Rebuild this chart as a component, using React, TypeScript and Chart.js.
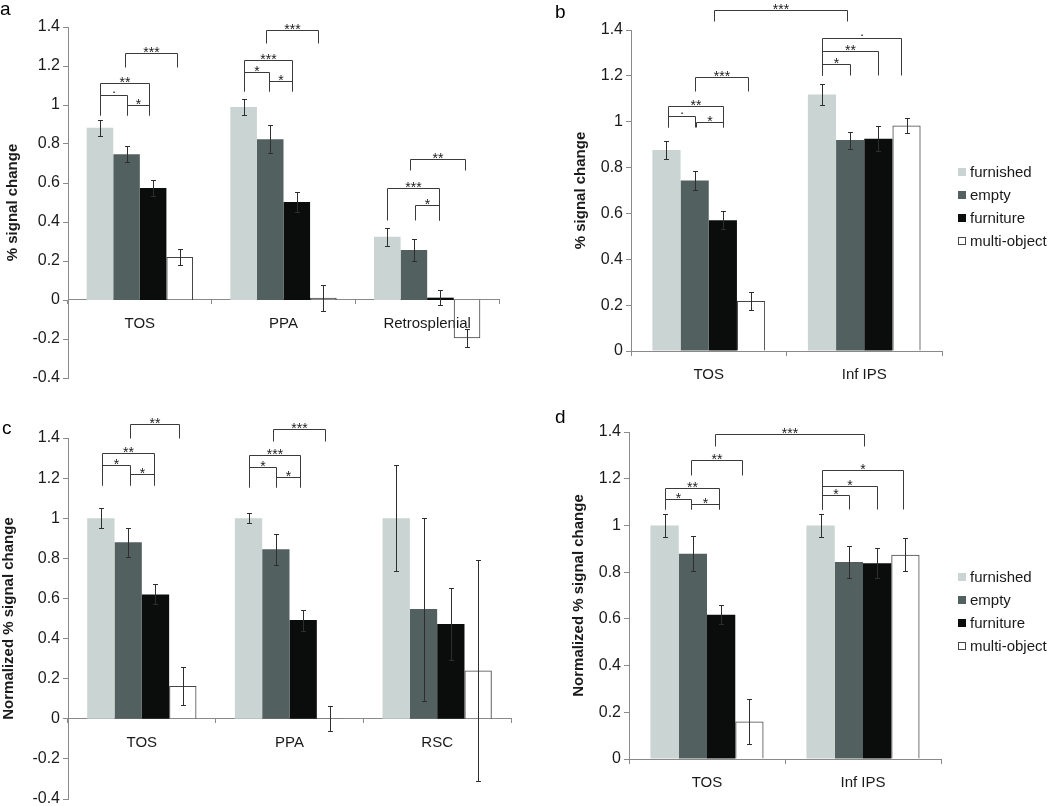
import React, { useEffect, useRef } from 'react';
import { Chart, registerables } from 'chart.js';

Chart.register(...registerables);

const FONT = "'Liberation Sans', Arial, Helvetica, sans-serif";

const SERIES_LABELS = ['furnished', 'empty', 'furniture', 'multi-object'];

// ---------- Panel a: % signal change ----------
const catsA = ['TOS', 'PPA', 'Retrosplenial'];
const furnishedA = [0.883, 0.99, 0.324];
const emptyA = [0.748, 0.825, 0.256];
const furnitureA = [0.574, 0.502, 0.012];
const multiA = [0.22, 0.012, -0.196];
const furnishedErrA = [0.041, 0.041, 0.046];
const emptyErrA = [0.042, 0.072, 0.055];
const furnitureErrA = [0.04, 0.05, 0.037];
const multiErrA = [0.041, 0.067, 0.046];

// ---------- Panel b: % signal change ----------
const catsB = ['TOS', 'Inf IPS'];
const furnishedB = [0.877, 1.119];
const emptyB = [0.744, 0.92];
const furnitureB = [0.57, 0.926];
const multiB = [0.218, 0.984];
const furnishedErrB = [0.041, 0.047];
const emptyErrB = [0.041, 0.037];
const furnitureErrB = [0.039, 0.054];
const multiErrB = [0.041, 0.032];

// ---------- Panel c: normalized % signal change ----------
const catsC = ['TOS', 'PPA', 'RSC'];
const furnishedC = [1.0, 1.0, 1.0];
const emptyC = [0.88, 0.845, 0.547];
const furnitureC = [0.62, 0.492, 0.472];
const multiC = [0.163, 0.003, 0.241];
const furnishedErrC = [0.051, 0.026, 0.263];
const emptyErrC = [0.073, 0.076, 0.456];
const furnitureErrC = [0.05, 0.052, 0.18];
const multiErrC = [0.096, 0.062, 0.55];

// ---------- Panel d: normalized % signal change ----------
const catsD = ['TOS', 'Inf IPS'];
const furnishedD = [1.0, 1.0];
const emptyD = [0.879, 0.843];
const furnitureD = [0.618, 0.838];
const multiD = [0.161, 0.875];
const furnishedErrD = [0.05, 0.05];
const emptyErrD = [0.074, 0.07];
const furnitureErrD = [0.04, 0.065];
const multiErrD = [0.096, 0.07];

// Significance brackets: [category1, bar1, category2, bar2, top value, leg-bottom value, label]
type Bracket = [number, number, number, number, number, number, string];

const bracketsA: Bracket[] = [
  [0, 0, 0, 1, 1.052, 0.948, '·'],
  [0, 1, 0, 1.86, 1.002, 0.948, '*'],
  [0, 0, 0, 1.86, 1.115, 0.948, '**'],
  [0, 0.94, 0, 2.89, 1.268, 1.195, '***'],
  [1, 0, 1, 0.95, 1.17, 1.072, '*'],
  [1, 0.95, 1, 1.83, 1.122, 1.072, '*'],
  [1, 0, 1, 1.83, 1.233, 1.072, '***'],
  [1, 0.85, 1, 2.8, 1.383, 1.32, '***'],
  [2, 0, 2, 1.94, 0.572, 0.41, '***'],
  [2, 1.04, 2, 1.94, 0.485, 0.41, '*'],
  [2, 0.85, 2, 2.94, 0.722, 0.666, '**'],
];

const bracketsB: Bracket[] = [
  [0, 0.04, 0, 1, 1.026, 0.975, '·'],
  [0, 1.04, 0, 2, 0.999, 0.975, '*'],
  [0, 0.04, 0, 2, 1.068, 0.975, '**'],
  [0, 1, 0, 2.88, 1.196, 1.135, '***'],
  [1, 0, 1, 1, 1.252, 1.204, '*'],
  [1, 0, 1, 2, 1.308, 1.204, '**'],
  [1, 0, 1, 2.82, 1.366, 1.204, '·'],
  [0, 1.68, 1, 0.88, 1.487, 1.439, '***'],
];

const bracketsC: Bracket[] = [
  [0, 0.04, 0, 1.07, 1.265, 1.166, '*'],
  [0, 1.07, 0, 1.96, 1.219, 1.166, '*'],
  [0, 0.04, 0, 1.96, 1.327, 1.166, '**'],
  [0, 1.07, 0, 2.86, 1.47, 1.4, '**'],
  [1, 0, 1, 1, 1.254, 1.156, '*'],
  [1, 1, 1, 1.89, 1.207, 1.156, '*'],
  [1, 0, 1, 1.89, 1.314, 1.156, '***'],
  [1, 0.88, 1, 2.81, 1.443, 1.383, '***'],
];

const bracketsD: Bracket[] = [
  [0, 0, 0, 0.95, 1.115, 1.069, '*'],
  [0, 0.95, 0, 1.93, 1.09, 1.069, '*'],
  [0, 0, 0, 1.93, 1.16, 1.069, '**'],
  [0, 0.92, 0, 2.74, 1.28, 1.217, '**'],
  [1, 0.04, 1, 1, 1.129, 1.072, '*'],
  [1, 0.04, 1, 2, 1.17, 1.072, '*'],
  [1, 0.04, 1, 2.92, 1.236, 1.072, '*'],
  [0, 1.78, 1, 1.54, 1.393, 1.339, '***'],
];

// ---------- styles ----------
// multi-object bars are white on white: a transparent fill lets axis labels show through, as in the figure
const BAR_FILL = ['#cad4d2', '#52605f', '#0b0d0c', 'rgba(255,255,255,0)'];
const LEGEND_FILL = ['#cad4d2', '#52605f', '#0b0d0c', '#ffffff'];
const BAR_BORDER = ['#cad4d2', '#52605f', '#0b0d0c', '#454545'];
const BAR_BORDER_W = [0, 0, 0, 1];
const AXIS_COLOR = '#8a8a8a';
const TEXT_COLOR = '#1a1a1a';

interface PanelDef {
  letter: string;
  letterX: number;
  letterY: number;
  left: number;
  top: number;
  width: number;
  height: number;
  pad: { left: number; right: number; top: number; bottom: number };
  yWidth: number;
  titlePad: number;
  title: string;
  min: number;
  max: number;
  catPct: number;
  cats: string[];
  values: number[][];
  errors: number[][];
  brackets: Bracket[];
  legendX: number;
  legendRows: number[] | null;
}

const PANELS: PanelDef[] = [
  {
    letter: 'a', letterX: 0, letterY: 15,
    left: 0, top: 0, width: 530, height: 400,
    pad: { left: 0, right: 31, top: 27, bottom: 22 },
    yWidth: 68, titlePad: 4, title: '% signal change',
    min: -0.4, max: 1.4, catPct: 0.74,
    cats: catsA,
    values: [furnishedA, emptyA, furnitureA, multiA],
    errors: [furnishedErrA, emptyErrA, furnitureErrA, multiErrA],
    brackets: bracketsA, legendX: 0, legendRows: null,
  },
  {
    letter: 'b', letterX: 25, letterY: 18,
    left: 530, top: 0, width: 520, height: 400,
    pad: { left: 40, right: 108, top: 30, bottom: 49 },
    yWidth: 61, titlePad: 2, title: '% signal change',
    min: 0, max: 1.4, catPct: 0.725,
    cats: catsB,
    values: [furnishedB, emptyB, furnitureB, multiB],
    errors: [furnishedErrB, emptyErrB, furnitureErrB, multiErrB],
    brackets: bracketsB, legendX: 428, legendRows: [172, 195, 218, 241],
  },
  {
    letter: 'c', letterX: 2, letterY: 34,
    left: 0, top: 400, width: 530, height: 420,
    pad: { left: 0, right: 19, top: 38, bottom: 21 },
    yWidth: 68, titlePad: 0, title: 'Normalized % signal change',
    min: -0.4, max: 1.4, catPct: 0.74,
    cats: catsC,
    values: [furnishedC, emptyC, furnitureC, multiC],
    errors: [furnishedErrC, emptyErrC, furnitureErrC, multiErrC],
    brackets: bracketsC, legendX: 0, legendRows: null,
  },
  {
    letter: 'd', letterX: 25, letterY: 23,
    left: 530, top: 400, width: 520, height: 406,
    pad: { left: 38, right: 109, top: 32, bottom: 47 },
    yWidth: 61, titlePad: 2, title: 'Normalized % signal change',
    min: 0, max: 1.4, catPct: 0.725,
    cats: catsD,
    values: [furnishedD, emptyD, furnitureD, multiD],
    errors: [furnishedErrD, emptyErrD, furnitureErrD, multiErrD],
    brackets: bracketsD, legendX: 428, legendRows: [177, 200, 223, 246],
  },
];

function makeOverlay(p: PanelDef) {
  return {
    id: 'overlay',
    afterDatasetsDraw(chart: any) {
      const ctx = chart.ctx as CanvasRenderingContext2D;
      const ys = chart.scales.y;
      ctx.save();
      // error bars
      ctx.strokeStyle = '#2e2e2e';
      ctx.lineWidth = 1;
      chart.data.datasets.forEach((_ds: any, di: number) => {
        const meta = chart.getDatasetMeta(di);
        meta.data.forEach((bar: any, i: number) => {
          const v = p.values[di][i];
          const e = p.errors[di][i];
          const x = Math.round(bar.x) + 0.5;
          const y1 = Math.round(ys.getPixelForValue(v + e)) + 0.5;
          const y2 = Math.round(ys.getPixelForValue(v - e)) + 0.5;
          ctx.beginPath();
          ctx.moveTo(x, y1);
          ctx.lineTo(x, y2);
          ctx.moveTo(x - 2.5, y1);
          ctx.lineTo(x + 2.5, y1);
          ctx.moveTo(x - 2.5, y2);
          ctx.lineTo(x + 2.5, y2);
          ctx.stroke();
        });
      });
      // significance brackets
      const m0 = chart.getDatasetMeta(0);
      const m1 = chart.getDatasetMeta(1);
      const bw = m1.data[0].x - m0.data[0].x;
      const bx = (cat: number, pos: number) => m0.data[cat].x + pos * bw;
      ctx.strokeStyle = '#3a3a3a';
      ctx.fillStyle = TEXT_COLOR;
      ctx.font = `14px ${FONT}`;
      ctx.textAlign = 'center';
      ctx.textBaseline = 'alphabetic';
      p.brackets.forEach(([c1, b1, c2, b2, top, bot, label]) => {
        const x1 = Math.round(bx(c1, b1)) + 0.5;
        const x2 = Math.round(bx(c2, b2)) + 0.5;
        const yt = Math.round(ys.getPixelForValue(top)) + 0.5;
        const yb = Math.round(ys.getPixelForValue(bot)) + 0.5;
        ctx.beginPath();
        ctx.moveTo(x1, yb);
        ctx.lineTo(x1, yt);
        ctx.lineTo(x2, yt);
        ctx.lineTo(x2, yb);
        ctx.stroke();
        const ly = label === '·' ? yt : yt + 3;
        ctx.fillText(label, (x1 + x2) / 2, ly);
      });
      ctx.restore();
    },
    afterDraw(chart: any) {
      const ctx = chart.ctx as CanvasRenderingContext2D;
      ctx.save();
      // legend
      if (p.legendRows) {
        ctx.font = `15px ${FONT}`;
        ctx.textAlign = 'left';
        ctx.textBaseline = 'middle';
        chart.data.datasets.forEach((ds: any, di: number) => {
          const cy = p.legendRows![di];
          ctx.fillStyle = LEGEND_FILL[di];
          ctx.fillRect(p.legendX, cy - 4, 8, 8);
          if (ds.borderWidth > 0) {
            ctx.strokeStyle = ds.borderColor;
            ctx.lineWidth = 1;
            ctx.strokeRect(p.legendX + 0.5, cy - 3.5, 7, 7);
          }
          ctx.fillStyle = TEXT_COLOR;
          ctx.fillText(ds.label, p.legendX + 12, cy + 1);
        });
      }
      // panel letter
      ctx.font = `19px ${FONT}`;
      ctx.fillStyle = '#000';
      ctx.textAlign = 'left';
      ctx.textBaseline = 'alphabetic';
      ctx.fillText(p.letter, p.letterX, p.letterY);
      ctx.restore();
    },
  };
}

function PanelChart({ p }: { p: PanelDef }) {
  const ref = useRef<HTMLCanvasElement | null>(null);
  useEffect(() => {
    if (!ref.current) return;
    const chart = new Chart(ref.current, {
      type: 'bar',
      data: {
        labels: p.cats,
        datasets: SERIES_LABELS.map((label, i) => ({
          label,
          data: p.values[i],
          backgroundColor: BAR_FILL[i],
          borderColor: BAR_BORDER[i],
          borderWidth: BAR_BORDER_W[i],
          categoryPercentage: p.catPct,
          barPercentage: 1,
        })),
      },
      options: {
        responsive: false,
        animation: false,
        events: [],
        layout: { padding: p.pad },
        plugins: { legend: { display: false }, tooltip: { enabled: false } },
        scales: {
          x: {
            type: 'category',
            position: { y: 0 } as any,
            grid: { drawOnChartArea: false, offset: true, color: AXIS_COLOR, tickLength: 4 },
            border: { color: AXIS_COLOR, width: 1 },
            ticks: { color: TEXT_COLOR, padding: 11, font: { family: FONT, size: 15 } },
          },
          y: {
            type: 'linear',
            min: p.min,
            max: p.max,
            afterFit: (s: any) => { s.width = p.yWidth; },
            grid: { drawOnChartArea: false, color: AXIS_COLOR, tickLength: 5 },
            border: { color: AXIS_COLOR, width: 1 },
            ticks: {
              stepSize: 0.2,
              padding: 3,
              color: TEXT_COLOR,
              font: { family: FONT, size: 16 },
              callback: (v: any) => String(Math.round(Number(v) * 10) / 10),
            },
            title: {
              display: true,
              text: p.title,
              color: TEXT_COLOR,
              font: { family: FONT, size: 15, weight: 'bold' },
              padding: { top: p.titlePad, bottom: 0 },
            },
          },
        },
      },
      plugins: [makeOverlay(p)],
    } as any);
    return () => chart.destroy();
  }, [p]);
  return (
    <canvas
      ref={ref}
      width={p.width}
      height={p.height}
      style={{ position: 'absolute', left: p.left, top: p.top, width: p.width, height: p.height }}
    />
  );
}

export default function App() {
  useEffect(() => {
    document.body.style.margin = '0';
  }, []);
  return (
    <div
      style={{
        position: 'fixed',
        left: 0,
        top: 0,
        width: 1050,
        height: 806,
        overflow: 'hidden',
        background: '#ffffff',
      }}
    >
      {PANELS.map((p) => (
        <PanelChart key={p.letter} p={p} />
      ))}
    </div>
  );
}
